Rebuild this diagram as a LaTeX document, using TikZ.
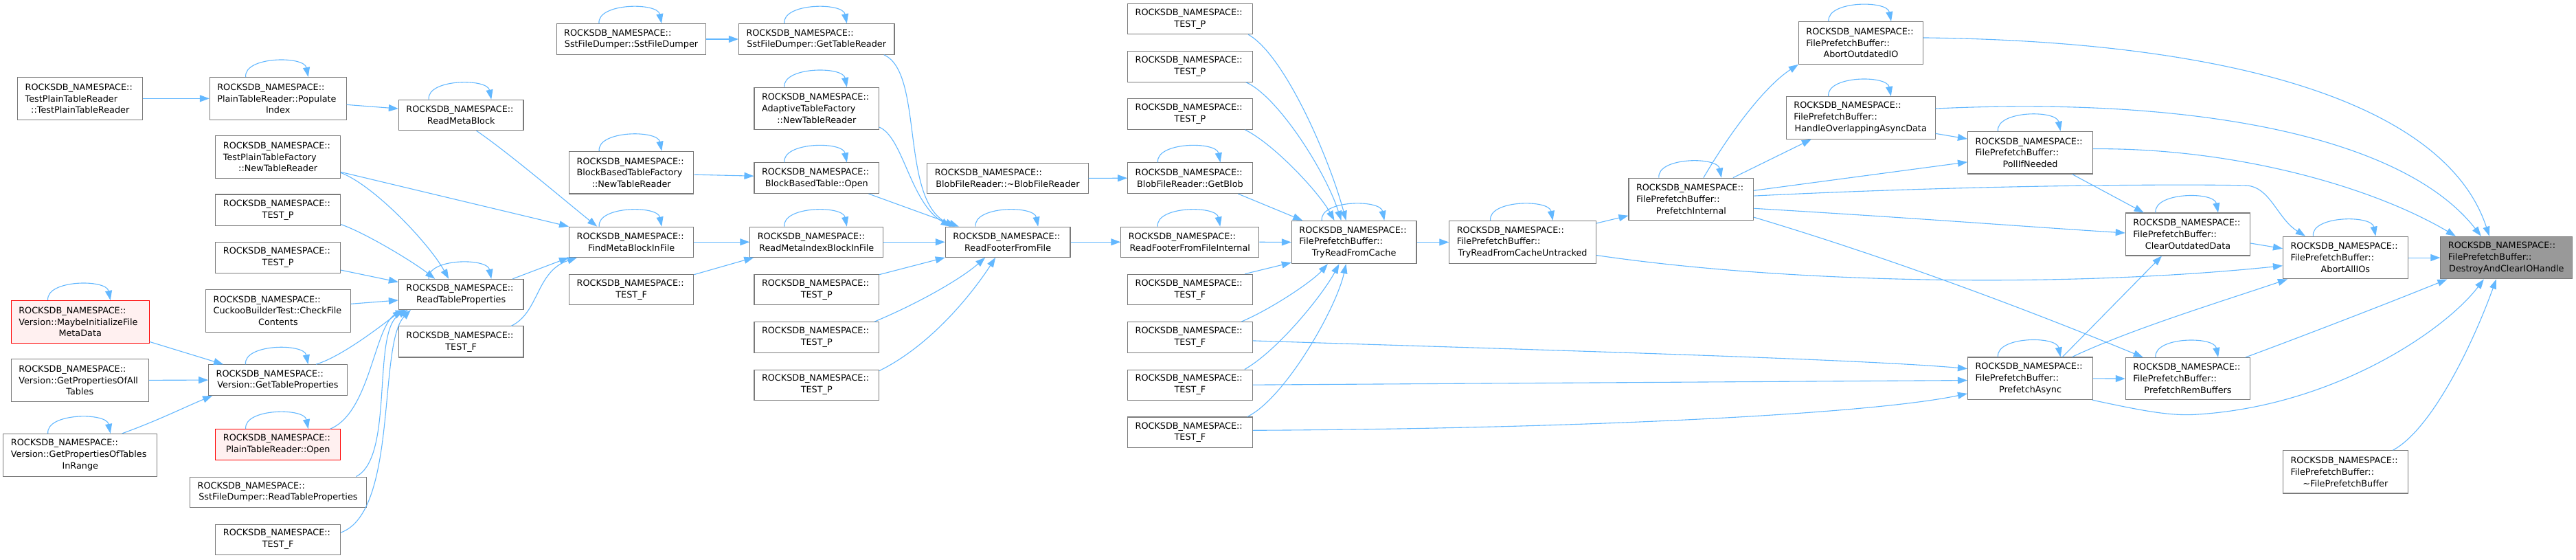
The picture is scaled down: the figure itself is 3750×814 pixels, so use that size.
\documentclass[tikz,border=0pt]{standalone}
\usepackage{fontspec}
\setmainfont{DejaVu Sans}
\usetikzlibrary{arrows.meta,calc}
\definecolor{edgecol}{HTML}{63B8FF}
\definecolor{bordercol}{HTML}{7A7A7A}
\definecolor{hlfill}{HTML}{999999}
\definecolor{redfill}{HTML}{FFF0F0}
\newcommand\lft[1]{\makebox[\tw][l]{#1}}
\newcommand\ns{\lft{ROCKSDB\_NAMESPACE::}}
\newcommand\fpb{\lft{FilePrefetchBuffer::}}
\newcommand\fnode[7][fbox]{%
  \pgfmathsetmacro\cx{(#3+#5)/2}\pgfmathsetmacro\cy{(#4+#6)/2}%
  \pgfmathsetmacro\ww{#5-#3}\pgfmathsetmacro\hh{#6-#4}%
  \pgfmathsetlengthmacro\tw{#5-#3-22}%
  \node[#1, minimum width=\ww pt, minimum height=\hh pt] (#2) at (\cx,\cy) {#7};}
\newcommand\sloop[1]{\draw[arr] ($(#1.north)+(-47,0)$) .. controls ($(#1.north)+(-50,-30)$) and ($(#1.north)+(38,-31)$) .. ($(#1.north)+(44,0)$);}
\begin{document}
\begin{tikzpicture}[x=1pt,y=-1pt,
 fbox/.style={draw=bordercol, fill=white, line width=1.1pt, inner xsep=11pt, inner ysep=0pt, align=center, font=\fontsize{12.8}{16.8}\selectfont},
 redbox/.style={fbox, draw=red, fill=redfill},
 hlbox/.style={fbox, fill=hlfill},
 arr/.style={draw=edgecol, line width=1.1pt, -{Triangle[length=14pt,width=10pt]}}]
\useasboundingbox[fill=white] (0,0) rectangle (3750,814);
\fnode{n1}{25.7}{112.5}{207.8}{174.2}{\ns\\\lft{TestPlainTableReader}\\::TestPlainTableReader}
\fnode[redbox]{n2}{16.3}{437.5}{217.1}{499.2}{\ns\\\lft{Version::MaybeInitializeFile}\\MetaData}
\fnode{n3}{16.3}{522.5}{216.3}{584.2}{\ns\\\lft{Version::GetPropertiesOfAll}\\Tables}
\fnode{n4}{4.9}{631.4}{228.6}{693.1}{\ns\\\lft{Version::GetPropertiesOfTables}\\InRange}
\fnode{n5}{305.3}{112.5}{504.1}{174.2}{\ns\\\lft{PlainTableReader::Populate}\\Index}
\fnode{n6}{313.9}{197.5}{495.5}{259.2}{\ns\\\lft{TestPlainTableFactory}\\::NewTableReader}
\fnode{n7}{313.9}{283}{495.5}{328.1}{\ns\\TEST\_P}
\fnode{n8}{313.9}{352.5}{495.5}{397.6}{\ns\\TEST\_P}
\fnode{n9}{299.6}{421.5}{510.2}{483.1}{\ns\\\lft{CuckooBuilderTest::CheckFile}\\Contents}
\fnode{n10}{303.7}{530.8}{505.3}{575.4}{\ns\\Version::GetTableProperties}
\fnode[redbox]{n11}{313.9}{624.7}{495.5}{669.2}{\ns\\PlainTableReader::Open}
\fnode{n12}{276.7}{694.1}{533.1}{738.2}{\ns\\SstFileDumper::ReadTableProperties}
\fnode{n13}{313.9}{763.1}{495.5}{807.1}{\ns\\TEST\_F}
\fnode{n14}{580.4}{145.2}{762}{189.7}{\ns\\ReadMetaBlock}
\fnode{n15}{580.4}{406.4}{762}{450.5}{\ns\\ReadTableProperties}
\fnode{n16}{580.4}{474.9}{762}{520}{\ns\\TEST\_F}
\fnode{n17}{810.2}{34.7}{1027.8}{79.3}{\ns\\SstFileDumper::SstFileDumper}
\fnode{n18}{828.6}{220.3}{1009.8}{282}{\ns\\\lft{BlockBasedTableFactory}\\::NewTableReader}
\fnode{n19}{828.6}{330.2}{1009.8}{374.3}{\ns\\FindMetaBlockInFile}
\fnode{n20}{828.6}{399.2}{1009.8}{443.8}{\ns\\TEST\_F}
\fnode{n21}{1075.5}{34.7}{1302}{79.3}{\ns\\SstFileDumper::GetTableReader}
\fnode{n22}{1098}{127.5}{1279.6}{188.7}{\ns\\\lft{AdaptiveTableFactory}\\::NewTableReader}
\fnode{n23}{1098}{236.9}{1279.6}{281.5}{\ns\\BlockBasedTable::Open}
\fnode{n24}{1091.8}{330.2}{1285.7}{374.3}{\ns\\ReadMetaIndexBlockInFile}
\fnode{n25}{1098}{399.2}{1279.6}{443.8}{\ns\\TEST\_P}
\fnode{n26}{1098}{468.6}{1279.6}{513.2}{\ns\\TEST\_P}
\fnode{n27}{1098}{538.1}{1279.6}{582.2}{\ns\\TEST\_P}
\fnode{n28}{1349.8}{237.4}{1584.1}{281.5}{\ns\\BlobFileReader::\textasciitilde BlobFileReader}
\fnode{n29}{1376.3}{330.2}{1558}{374.3}{\ns\\ReadFooterFromFile}
\fnode{n30}{1641.6}{5.2}{1823.3}{49.8}{\ns\\TEST\_P}
\fnode{n31}{1641.6}{74.6}{1823.3}{119.2}{\ns\\TEST\_P}
\fnode{n32}{1641.6}{143.6}{1823.3}{188.2}{\ns\\TEST\_P}
\fnode{n33}{1641.6}{236.9}{1823.3}{281.5}{\ns\\BlobFileReader::GetBlob}
\fnode{n34}{1631.8}{330.2}{1832.7}{374.3}{\ns\\ReadFooterFromFileInternal}
\fnode{n35}{1641.6}{399.2}{1823.3}{443.8}{\ns\\TEST\_F}
\fnode{n36}{1641.6}{468.6}{1823.3}{513.2}{\ns\\TEST\_F}
\fnode{n37}{1641.6}{538.1}{1823.3}{582.2}{\ns\\TEST\_F}
\fnode{n38}{1641.6}{607}{1823.3}{651.6}{\ns\\TEST\_F}
\fnode{n39}{1880.4}{321.4}{2062}{383.6}{\ns\\\fpb\\TryReadFromCache}
\fnode{n40}{2109.8}{321.4}{2323.3}{383.6}{\ns\\\fpb\\TryReadFromCacheUntracked}
\fnode{n41}{2371}{259.2}{2552.7}{320.4}{\ns\\\fpb\\PrefetchInternal}
\fnode{n42}{2618.4}{31.6}{2799.6}{93.3}{\ns\\\fpb\\AbortOutdatedIO}
\fnode{n43}{2600.4}{140.5}{2817.1}{202.2}{\ns\\\fpb\\HandleOverlappingAsyncData}
\fnode{n44}{2864.5}{191.3}{3046.5}{253}{\ns\\\fpb\\PollIfNeeded}
\fnode{n45}{2864.5}{520}{3046.5}{581.7}{\ns\\\fpb\\PrefetchAsync}
\fnode{n46}{3094.3}{310}{3275.7}{372}{\ns\\\fpb\\ClearOutdatedData}
\fnode{n47}{3094.3}{520.5}{3275.7}{581.7}{\ns\\\fpb\\PrefetchRemBuffers}
\fnode{n48}{3323.5}{344.2}{3505.1}{405.9}{\ns\\\fpb\\AbortAllIOs}
\fnode{n49}{3323.5}{655.8}{3505.1}{718}{\ns\\\fpb\\\textasciitilde FilePrefetchBuffer}
\fnode[hlbox]{n50}{3552.9}{344.2}{3744.7}{405.9}{\ns\\\fpb\\DestroyAndClearIOHandle}
% self loops
\foreach \n in {n2,n4,n5,n10,n11,n14,n15,n17,n18,n19,n21,n22,n23,n24,n29,n33,n34,n39,n40,n41,n42,n43,n44,n45,n46,n47,n48}{\sloop{\n}}
% edges
\draw[arr] (n1.east) -- (n5.west);
\draw[arr] ($(n5.east)+(0,9)$) -- ($(n14.west)+(0,-9.3)$);
\draw[arr] ($(n6.east)+(0,22)$) -- (n19.north west);
\draw[arr] ($(n6.east)+(0,23)$) .. controls (545,270) and (625,355) .. ($(n15.north)+(-18,0)$);
\draw[arr] ($(n7.east)+(0,21)$) .. controls (530,338) and (600,380) .. ($(n15.north)+(-38,0)$);
\draw[arr] ($(n8.east)+(0,18)$) -- ($(n15.west)+(0,-18)$);
\draw[arr] ($(n9.east)+(0,-10)$) -- ($(n15.west)+(0,8.5)$);
\draw[arr] ($(n10.north)+(55.5,0)$) .. controls (500,518) and (560,470) .. ($(n15.south west)+(6,0)$);
\draw[arr] ($(n11.north)+(76,0)$) .. controls (540,600) and (545,470) .. ($(n15.south west)+(10,0)$);
\draw[arr] ($(n12.north)+(113.5,0)$) .. controls (575,665) and (540,480) .. ($(n15.south west)+(14,0)$);
\draw[arr] ($(n13.east)+(0,-10)$) .. controls (580,745) and (550,500) .. ($(n15.south west)+(18,0)$);
\draw[arr] ($(n2.east)+(0,29)$) -- ($(n10.north west)+(22,0)$);
\draw[arr] (n3.east) -- (n10.west);
\draw[arr] ($(n4.north)+(61,0)$) .. controls (230,612) and (270,592) .. ($(n10.south west)+(6,0)$);
\draw[arr] ($(n14.south)+(22.3,0)$) .. controls (740,222) and (820,290) .. ($(n19.north)+(-50,0)$);
\draw[arr] ($(n15.north)+(75,0)$) -- (n19.south west);
\draw[arr] ($(n16.north)+(73,0)$) .. controls (785,455) and (780,395) .. ($(n19.south west)+(12,0)$);
\draw[arr] ($(n18.east)+(0,3)$) -- ($(n23.west)+(0,-3)$);
\draw[arr] (n19.east) -- (n24.west);
\draw[arr] ($(n20.north east)+(0,1)$) -- ($(n24.south west)+(6,0)$);
\draw[arr] (n17.east) -- (n21.west);
\draw[arr] ($(n21.south)+(98,0)$) .. controls (1345,105) and (1310,290) .. ($(n29.north west)+(14,0)$);
\draw[arr] ($(n22.east)+(0,27)$) .. controls (1315,200) and (1325,295) .. ($(n29.north west)+(8,0)$);
\draw[arr] ($(n23.south)+(75.7,0)$) -- ($(n29.north west)+(20,0)$);
\draw[arr] (n24.east) -- (n29.west);
\draw[arr] ($(n25.north east)+(0,1)$) -- (n29.south west);
\draw[arr] ($(n26.north east)+(-7,0)$) .. controls (1340,440) and (1400,405) .. ($(n29.south)+(-33,0)$);
\draw[arr] ($(n27.north east)+(0,2)$) .. controls (1360,500) and (1420,420) .. ($(n29.south)+(-18,0)$);
\draw[arr] (n28.east) -- (n33.west);
\draw[arr] (n29.east) -- (n34.west);
\draw[arr] ($(n30.south east)+(-6.6,0)$) .. controls (1870,80) and (1935,230) .. ($(n39.north west)+(79.6,0)$);
\draw[arr] ($(n31.south east)+(-10,0)$) .. controls (1860,140) and (1930,250) .. ($(n39.north west)+(72.6,0)$);
\draw[arr] ($(n32.south east)+(-11.6,0)$) .. controls (1855,210) and (1920,280) .. ($(n39.north west)+(62.6,0)$);
\draw[arr] ($(n33.south east)+(-21.6,0)$) -- ($(n39.north west)+(16.3,0)$);
\draw[arr] (n34.east) -- (n39.west);
\draw[arr] ($(n35.north east)+(-11.6,0)$) -- ($(n39.south west)+(0,-2)$);
\draw[arr] ($(n36.north east)+(-16.6,0)$) .. controls (1850,450) and (1910,410) .. ($(n39.south west)+(53,0)$);
\draw[arr] ($(n37.north east)+(-12,0)$) .. controls (1860,510) and (1925,430) .. ($(n39.south west)+(69.6,0)$);
\draw[arr] ($(n38.north east)+(-8,0)$) .. controls (1870,580) and (1945,450) .. ($(n39.south west)+(79.6,0)$);
\draw[arr] ($(n36.east)+(0,5)$) .. controls (2200,508) and (2700,522) .. ($(n45.west)+(0,-14.3)$);
\draw[arr] (n37.east) -- ($(n45.west)+(0,2.7)$);
\draw[arr] ($(n38.east)+(0,-3)$) .. controls (2300,624) and (2720,603) .. ($(n45.west)+(0,22)$);
\draw[arr] (n39.east) -- (n40.west);
\draw[arr] ($(n40.east)+(0,-27.5)$) -- ($(n41.west)+(0,24)$);
\draw[arr] ($(n40.east)+(0,19)$) .. controls (2600,412) and (3000,420) .. ($(n48.west)+(0,11.7)$);
\draw[arr] ($(n41.north)+(18,0)$) .. controls (2520,190) and (2570,125) .. (n42.south west);
\draw[arr] ($(n41.north)+(61,0)$) -- ($(n43.south west)+(37,0)$);
\draw[arr] ($(n41.east)+(0,-12.5)$) -- ($(n44.west)+(0,13.7)$);
\draw[arr] ($(n41.east)+(0,-4.7)$) .. controls (2900,268) and (3200,268) .. (3270,270) .. controls (3305,272) and (3315,318) .. ($(n48.north west)+(33,0)$);
\draw[arr] ($(n41.east)+(0,13.5)$) .. controls (2800,318) and (2950,330) .. ($(n46.west)+(0,-2)$);
\draw[arr] ($(n41.east)+(0,26.4)$) .. controls (2750,375) and (2950,450) .. ($(n47.north west)+(26,0)$);
\draw[arr] ($(n43.east)+(0,23)$) -- ($(n44.west)+(0,-20)$);
\draw[arr] ($(n43.east)+(0,-13.3)$) .. controls (3200,140) and (3500,200) .. ($(n50.north)+(-37,0)$);
\draw[arr] ($(n42.east)+(0,-7.5)$) .. controls (3250,60) and (3560,150) .. ($(n50.north)+(-25,0)$);
\draw[arr] ($(n44.east)+(0,-5.5)$) .. controls (3250,215) and (3450,270) .. ($(n50.north)+(-74,0)$);
\draw[arr] ($(n44.south)+(61,0)$) -- ($(n46.north west)+(27,0)$);
\draw[arr] ($(n46.east)+(0,13)$) -- ($(n48.west)+(0,-13.3)$);
\draw[arr] ($(n45.north)+(47,0)$) -- ($(n46.south)+(-38,0)$);
\draw[arr] ($(n45.north)+(61,0)$) .. controls (3100,480) and (3230,440) .. ($(n48.south west)+(7,0)$);
\draw[arr] (n45.east) -- (n47.west);
\draw[arr] ($(n45.south east)+(-1,0)$) .. controls (3120,598) and (3160,606) .. (3200,603) .. controls (3400,590) and (3560,480) .. ($(n50.south)+(-33,0)$);
\draw[arr] ($(n47.north)+(84,0)$) .. controls (3350,490) and (3480,440) .. ($(n50.south west)+(10,0)$);
\draw[arr] (n48.east) -- (n50.west);
\draw[arr] ($(n49.north)+(69,0)$) .. controls (3540,625) and (3600,500) .. ($(n50.south)+(-15,0)$);
\end{tikzpicture}
\end{document}
